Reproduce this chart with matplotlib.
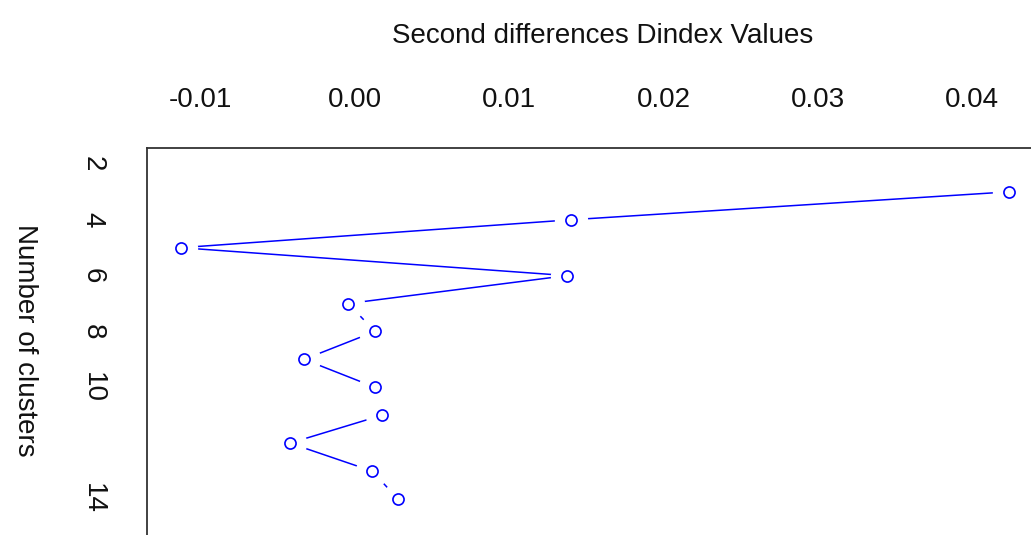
import matplotlib
matplotlib.use("Agg")
from matplotlib import pyplot as plt

plt.rcParams['font.family'] = ['Liberation Sans', 'DejaVu Sans']

# second differences of the Dindex for each number of clusters
clusters = [3, 4, 5, 6, 7, 8, 9, 10, 11, 12, 13, 14]
dindex_diff = [0.04239, 0.0140, -0.01128, 0.01374, -0.00045, 0.0013,
               -0.0033, 0.0013, 0.00175, -0.00421, 0.0011, 0.00279]

x_ticks = [-0.01, 0.00, 0.01, 0.02, 0.03, 0.04]
x_ticklabels = ["-0.01", "0.00", "0.01", "0.02", "0.03", "0.04"]
y_ticks = [2, 4, 6, 8, 10, 14]

fig = plt.figure(figsize=(10.31, 5.35), dpi=100)
ax = fig.add_axes([147/1031, 0, 884/1031, 387/535])

blue = (0, 0, 1)

# "b" style: line with gaps around each point
ax.plot(dindex_diff, clusters, color=blue, lw=1.1, zorder=2)
ax.plot(dindex_diff, clusters, 'o', ms=24, mfc='white', mec='none', zorder=3)
ax.plot(dindex_diff, clusters, 'o', ms=8, mfc='none', mec=blue, mew=1.2, zorder=4)

ax.set_xlim(-0.01348, 0.04381)
ax.set_ylim(15.29, 1.43)

ax.xaxis.tick_top()
ax.set_xticks(x_ticks)
ax.set_xticklabels(x_ticklabels)
ax.set_yticks(y_ticks)
ax.set_yticklabels([str(v) for v in y_ticks], rotation=-90, va='center', ha='center')
ax.tick_params(axis='x', length=0, pad=25, labelsize=20, colors='#111111')
ax.tick_params(axis='y', length=0, pad=39, labelsize=20, colors='#111111')

ax.set_xlabel("Second differences Dindex Values", fontsize=20, color='#111111', va='center')
ax.xaxis.set_label_position('top')
ax.xaxis.set_label_coords(0.515, 1.271)
ax.set_ylabel("Number of clusters", fontsize=20, color='#111111', rotation=-90, va='center')
ax.yaxis.set_label_coords(-0.138, 0.504)

ax.spines['right'].set_visible(False)
ax.spines['bottom'].set_visible(False)
for s in ['left', 'top']:
    ax.spines[s].set_color('#333333')
    ax.spines[s].set_linewidth(1.3)

plt.savefig("out.png", dpi=100)
plt.close()
